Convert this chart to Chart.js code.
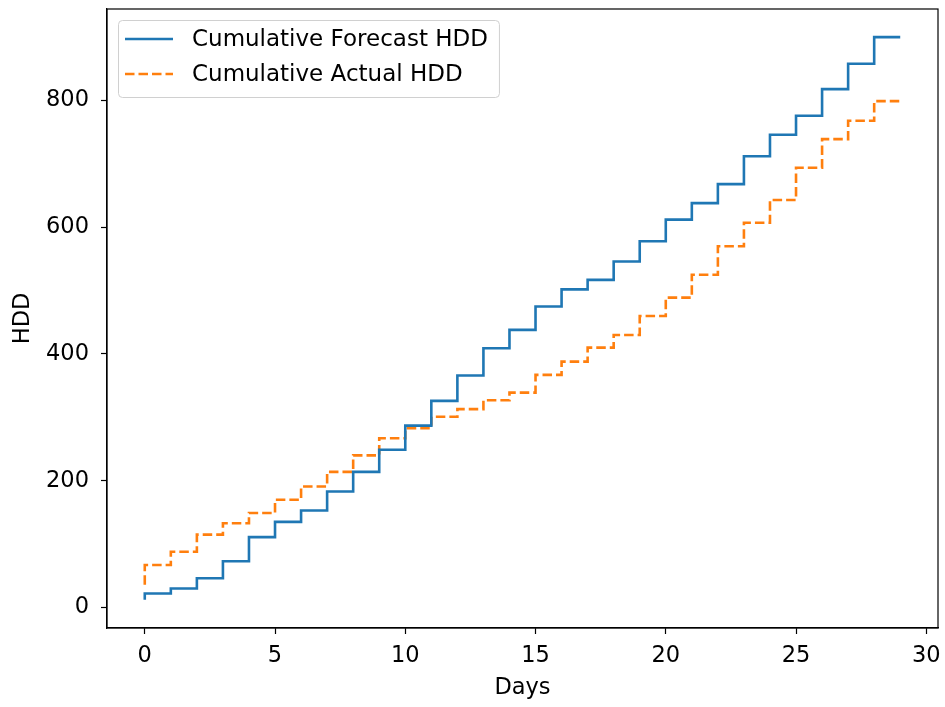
<!DOCTYPE html>
<html>
<head>
<meta charset="utf-8">
<script src="https://cdn.jsdelivr.net/npm/chart.js@4"></script>
<style>
  html, body { margin: 0; padding: 0; background: #fff; }
  #wrap { width: 945px; height: 707px; }
</style>
</head>
<body>
<div id="wrap"><canvas id="hdd"></canvas></div>
<script>
const days = [0, 1, 2, 3, 4, 5, 6, 7, 8, 9, 10, 11, 12, 13, 14, 15, 16, 17, 18, 19, 20, 21, 22, 23, 24, 25, 26, 27, 28, 29];
const forecastHdd = [12, 22, 30, 46, 73, 111, 135, 153, 183, 214, 249, 287, 326, 366, 409, 438, 475, 502, 517, 546, 578, 612, 638, 668, 712, 746, 776, 818, 858, 900];
const actualHdd = [36, 67, 88, 115, 133, 149, 170, 191, 214, 240, 267, 283, 301, 313, 327, 339, 367, 388, 410, 430, 460, 489, 525, 570, 607, 643, 694, 739, 768, 799];
const xTicks = [0, 5, 10, 15, 20, 25, 30];
const yTicks = [0, 200, 400, 600, 800];

const FONT = "'DejaVu Sans', sans-serif";
const FS = 22.5;

// matplotlib-style frame (all four spines)
const frame = {
  id: 'frame',
  afterDatasetsDraw(chart) {
    const { ctx, chartArea: a } = chart;
    ctx.save();
    ctx.strokeStyle = '#000';
    ctx.lineWidth = 1.2;
    ctx.strokeRect(a.left, a.top, a.right - a.left, a.bottom - a.top);
    ctx.restore();
  }
};

// legend box in the upper left of the axes
const boxLegend = {
  id: 'boxLegend',
  afterDraw(chart) {
    const { ctx, chartArea: a } = chart;
    const sets = chart.data.datasets;
    ctx.save();
    ctx.font = '23px ' + FONT;
    const textW = Math.max(...sets.map(d => ctx.measureText(d.label).width));
    const x = a.left + 11, y = a.top + 11;
    const w = 74 + textW + 11, h = 77;
    ctx.fillStyle = 'rgba(255,255,255,0.8)';
    ctx.strokeStyle = '#d0d0d0';
    ctx.lineWidth = 1;
    ctx.beginPath();
    ctx.roundRect(x + 0.5, y + 0.5, w, h, 4);
    ctx.fill();
    ctx.stroke();
    sets.forEach((d, i) => {
      const cy = y + 19 + i * 35;
      ctx.strokeStyle = d.borderColor;
      ctx.lineWidth = d.borderWidth;
      ctx.setLineDash(d.borderDash || []);
      ctx.beginPath();
      ctx.moveTo(x + 7, cy);
      ctx.lineTo(x + 55, cy);
      ctx.stroke();
      ctx.setLineDash([]);
      ctx.fillStyle = '#000';
      ctx.textBaseline = 'middle';
      ctx.fillText(d.label, x + 74, cy + 1);
    });
    ctx.restore();
  }
};

new Chart(document.getElementById('hdd'), {
  type: 'line',
  data: {
    datasets: [
      {
        label: 'Cumulative Forecast HDD',
        data: days.map((d, i) => ({ x: d, y: forecastHdd[i] })),
        borderColor: '#1f77b4',
        borderWidth: 2.6,
        stepped: 'after',
        pointRadius: 0,
        fill: false
      },
      {
        label: 'Cumulative Actual HDD',
        data: days.map((d, i) => ({ x: d, y: actualHdd[i] })),
        borderColor: '#ff7f0e',
        borderWidth: 2.6,
        borderDash: [9.5, 4],
        stepped: 'after',
        pointRadius: 0,
        fill: false
      }
    ]
  },
  options: {
    responsive: true,
    maintainAspectRatio: false,
    animation: false,
    layout: { padding: { top: 9, right: 7, left: 0, bottom: 0 } },
    plugins: {
      legend: { display: false },
      tooltip: { enabled: false }
    },
    scales: {
      x: {
        type: 'linear',
        min: -1.45,
        max: 30.45,
        afterBuildTicks: s => { s.ticks = xTicks.map(v => ({ value: v })); },
        afterFit: s => { s.height = 79; s.paddingLeft = 0; s.paddingRight = 0; },
        grid: { display: true, drawOnChartArea: false, tickLength: 6, tickColor: '#000', tickWidth: 1.2 },
        border: { display: true, color: '#000', width: 1.2 },
        ticks: { font: { size: FS, family: FONT }, color: '#000', padding: 9, maxRotation: 0 },
        title: {
          display: true,
          text: 'Days',
          font: { size: FS, family: FONT },
          color: '#000',
          padding: { top: 5, bottom: 5 }
        }
      },
      y: {
        min: -32.4,
        max: 944.4,
        afterBuildTicks: s => { s.ticks = yTicks.map(v => ({ value: v })); },
        afterFit: s => { s.width = 107; s.paddingTop = 0; s.paddingBottom = 0; },
        grid: { display: true, drawOnChartArea: false, tickLength: 6, tickColor: '#000', tickWidth: 1.2 },
        border: { display: true, color: '#000', width: 1.2 },
        ticks: { font: { size: FS, family: FONT }, color: '#000', padding: 12 },
        title: {
          display: true,
          text: 'HDD',
          font: { size: FS, family: FONT },
          color: '#000',
          padding: { top: 10, bottom: 10 }
        }
      }
    }
  },
  plugins: [frame, boxLegend]
});
</script>
</body>
</html>
